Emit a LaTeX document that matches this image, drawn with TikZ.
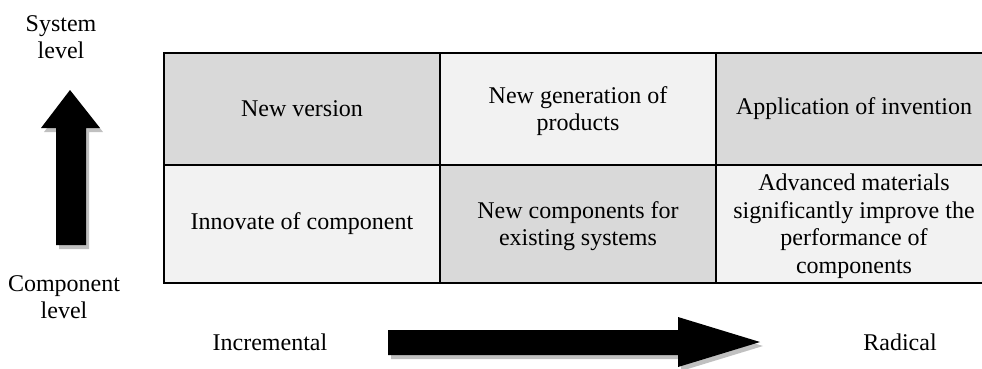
\documentclass[tikz,border=0pt]{standalone}
\usepackage{fontspec}
\setmainfont{Liberation Serif}
\begin{document}
\begin{tikzpicture}[x=1pt,y=-1pt,
  lbl/.style={font=\fontsize{24}{27.5}\selectfont, align=center, inner sep=0pt},
  darkcell/.style={fill=cellDark},
  lightcell/.style={fill=cellLight},
  grid/.style={line width=2.6pt, draw=black},
  bigarrow/.style={fill=black},
  arrowshadow/.style={fill=shadowGray},
]
\definecolor{cellDark}{HTML}{D9D9D9}
\definecolor{cellLight}{HTML}{F2F2F2}
\definecolor{shadowGray}{HTML}{C0C0C0}
\useasboundingbox (0,0) rectangle (982,368);
\clip (0,0) rectangle (982,368);

% cell backgrounds
\fill[darkcell]  (164,53)  rectangle (440,165);
\fill[lightcell] (440,53)  rectangle (716,165);
\fill[darkcell]  (716,53)  rectangle (992,165);
\fill[lightcell] (164,165) rectangle (440,283);
\fill[darkcell]  (440,165) rectangle (716,283);
\fill[lightcell] (716,165) rectangle (992,283);

% table rules
\draw[grid] (164,53) rectangle (992,283);
\draw[grid] (164,165) -- (992,165);
\draw[grid] (440,53) -- (440,283);
\draw[grid] (716,53) -- (716,283);

% cell texts
\node[lbl] (c11) at (302,109) {New version};
\node[lbl] (c12) at (578,111) {New generation of\\products};
\node[lbl] (c13) at (854,109) {Application of invention};
\node[lbl] (c21) at (302,224) {Innovate of component};
\node[lbl] (c22) at (578,226) {New components for\\existing systems};
\node[lbl] (c23) at (854,226) {Advanced materials\\significantly improve the\\performance of\\components};

% vertical block arrow with drop shadow
\begin{scope}[shift={(3,4)}]
  \fill[arrowshadow] (56,245) -- (56,128) -- (41,128) -- (70,90) -- (100,128) -- (86,128) -- (86,245) -- cycle;
\end{scope}
\fill[bigarrow] (56,245) -- (56,128) -- (41,128) -- (70,90) -- (100,128) -- (86,128) -- (86,245) -- cycle;

% horizontal block arrow with drop shadow
\begin{scope}[shift={(3,4)}]
  \fill[arrowshadow] (388,330) -- (678,330) -- (678,317) -- (760,342) -- (678,367) -- (678,355) -- (388,355) -- cycle;
\end{scope}
\fill[bigarrow] (388,330) -- (678,330) -- (678,317) -- (760,342) -- (678,367) -- (678,355) -- (388,355) -- cycle;

% axis labels
\node[lbl] (sys)  at (61,37)  {System\\level};
\node[lbl] (comp) at (64,297) {Component\\level};
\node[lbl] (inc)  at (270,342) {Incremental};
\node[lbl] (rad)  at (900,342) {Radical};
\end{tikzpicture}
\end{document}
